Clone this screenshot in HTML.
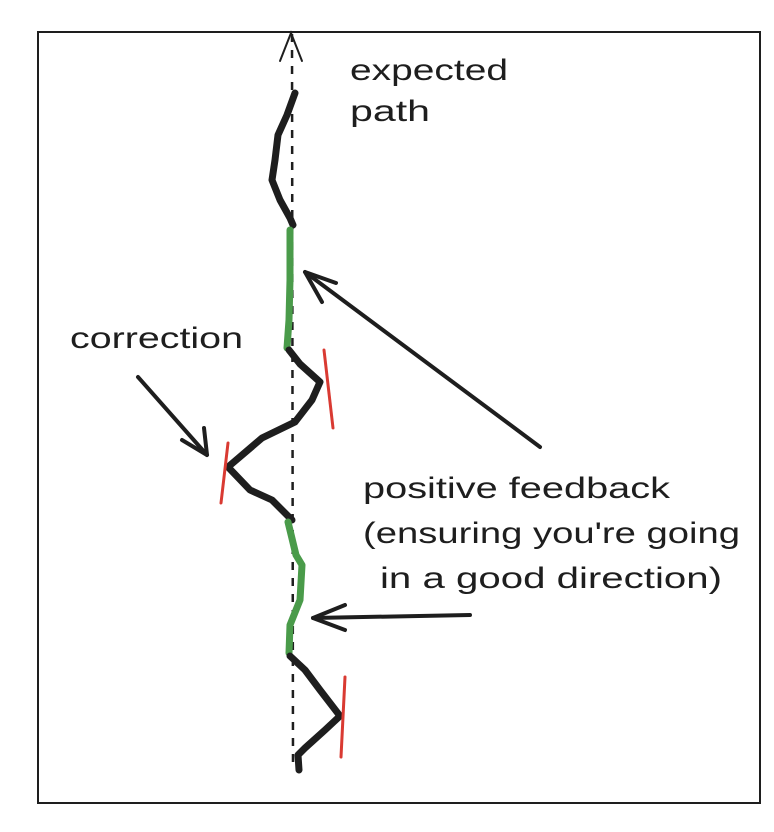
<!DOCTYPE html>
<html><head><style>body{margin:0;background:#fff}svg{display:block}</style></head><body>
<svg width="774" height="832" viewBox="0 0 774 832" xmlns="http://www.w3.org/2000/svg" font-family="Liberation Sans, sans-serif">
<rect x="38" y="32" width="722" height="771" fill="none" stroke="#1e1e1e" stroke-width="2"/>
<line x1="292" y1="34" x2="293" y2="768" stroke="#1e1e1e" stroke-width="2.5" stroke-dasharray="8,8"/>
<polyline points="280,61 291,33 302,61" fill="none" stroke="#1e1e1e" stroke-width="2" stroke-linecap="round"/>
<g fill="none" stroke-linecap="round" stroke-linejoin="round" stroke-width="7">
<polyline stroke="#1e1e1e" points="295,93 287,115 278,135 275,160 272,180 280,200 290,218 293,225"/>
<polyline stroke="#4a9b4a" points="290,230 290,280 289,320 287,348"/>
<polyline stroke="#1e1e1e" points="289,350 300,364 320,382 312,400 295,422 262,438 228,467 250,490 272,500 292,520"/>
<polyline stroke="#4a9b4a" points="288,522 296,555 302,565 300,600 290,625 289,653"/>
<polyline stroke="#1e1e1e" points="290,656 305,670 320,690 340,716 325,730 305,748 298,755 299,770"/>
</g>
<g stroke="#d93a32" stroke-width="3" stroke-linecap="round">
<line x1="324" y1="350" x2="333" y2="428"/>
<line x1="228" y1="443" x2="221" y2="503"/>
<line x1="345" y1="677" x2="341" y2="757"/>
</g>
<g fill="none" stroke="#1e1e1e" stroke-width="4" stroke-linecap="round" stroke-linejoin="round">
<line x1="540" y1="447" x2="305" y2="272"/>
<polyline points="336,283 305,272 322,302"/>
<line x1="470" y1="615" x2="313" y2="618"/>
<polyline points="345,605 313,618 345,630"/>
<line x1="138" y1="377" x2="207" y2="455"/>
<polyline points="182,440 207,455 204,428"/>
</g>
<g fill="#1e1e1e" font-size="30">
<text x="350" y="80" textLength="158" lengthAdjust="spacingAndGlyphs">expected</text>
<text x="350" y="121" textLength="80" lengthAdjust="spacingAndGlyphs">path</text>
<text x="70" y="348" textLength="173" lengthAdjust="spacingAndGlyphs">correction</text>
<text x="363" y="498" textLength="307" lengthAdjust="spacingAndGlyphs">positive feedback</text>
<text x="363" y="543" textLength="377" lengthAdjust="spacingAndGlyphs">(ensuring you're going</text>
<text x="380" y="588" textLength="342" lengthAdjust="spacingAndGlyphs">in a good direction)</text>
</g>
</svg>
</body></html>
